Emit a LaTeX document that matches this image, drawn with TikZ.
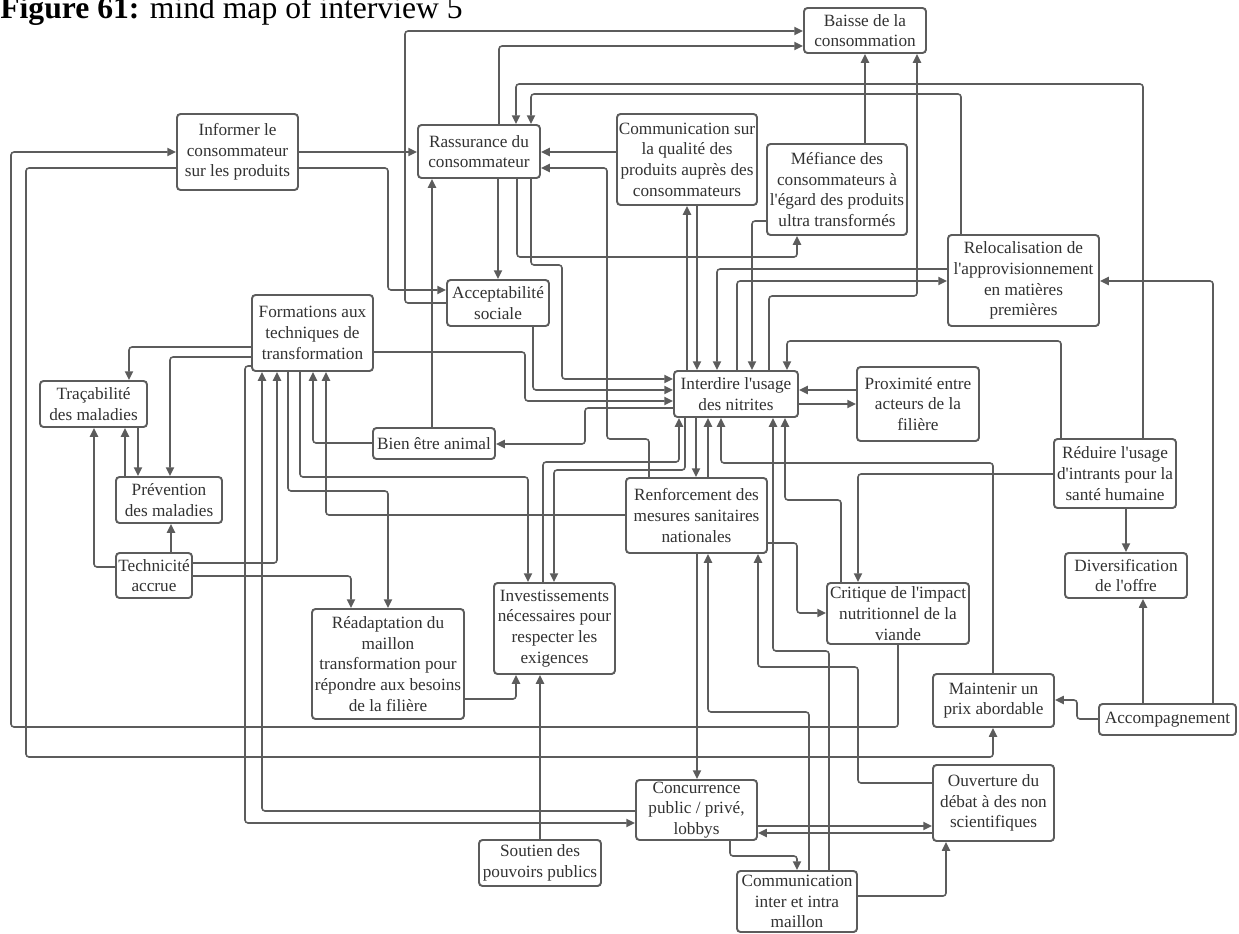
\documentclass[tikz,border=0pt]{standalone}
\usepackage{fontspec}
\setmainfont{Liberation Serif}[Ligatures=TeXOff]
\usetikzlibrary{arrows.meta}
\definecolor{lg}{RGB}{92,92,92}
\definecolor{tg}{RGB}{50,50,50}
\newcommand{\ndbox}[6]{%
 \pgfmathsetmacro{\ndw}{(#4-#2)*0.02}%
 \pgfmathsetmacro{\ndh}{(#5-#3)*0.02}%
 \node[bx, minimum width=\ndw cm, minimum height=\ndh cm] (#1) at ({(#2+#4)/2},{(#3+#5)/2}) {#6};}
\begin{document}
\begin{tikzpicture}[x=0.02cm, y=-0.02cm,
  bx/.style={draw=lg, line width=1.1pt, rounded corners=0.07cm, fill=white, inner sep=0pt, align=center, font=\fontsize{9.8}{11.8}\selectfont, text=tg},
  arr/.style={draw=lg, line width=0.9pt, rounded corners=0.06cm, -{Triangle[length=5pt,width=4.6pt]}}]
\useasboundingbox (0,0) rectangle (1239,933);
\node[anchor=base west, inner sep=0pt, font=\fontsize{18}{20}\selectfont] (title) at (0,18) {\textbf{Figure 61:} mind map of interview 5};
% nodes
\ndbox{Baisse}{804}{8}{926}{53}{Baisse de la\\consommation}
\ndbox{Informer}{177}{114}{298}{190}{Informer le\\consommateur\\sur les produits}
\ndbox{Rassurance}{418}{125}{540}{178}{Rassurance du\\consommateur}
\ndbox{CommQual}{617}{114}{757}{205}{Communication sur\\la qualité des\\produits auprès des\\consommateurs}
\ndbox{Mefiance}{767}{144}{907}{235}{Méfiance des\\consommateurs à\\l'égard des produits\\ultra transformés}
\ndbox{Relocalisation}{948}{235}{1099}{326}{Relocalisation de\\l'approvisionnement\\en matières\\premières}
\ndbox{Acceptabilite}{447}{280}{549}{326}{Acceptabilité\\sociale}
\ndbox{Formations}{252}{295}{373}{371}{Formations aux\\techniques de\\transformation}
\ndbox{Tracabilite}{40}{381}{147}{427}{Traçabilité\\des maladies}
\ndbox{Prevention}{116}{477}{222}{523}{Prévention\\des maladies}
\ndbox{Technicite}{116}{553}{192}{598}{Technicité\\accrue}
\ndbox{BienEtre}{373}{428}{495}{459}{Bien être animal}
\ndbox{Interdire}{674}{371}{798}{417}{Interdire l'usage\\des nitrites}
\ndbox{Proximite}{857}{367}{979}{441}{Proximité entre\\acteurs de la\\filière}
\ndbox{Reduire}{1054}{439}{1176}{508}{Réduire l'usage\\d'intrants pour la\\santé humaine}
\ndbox{Renforcement}{626}{478}{767}{553}{Renforcement des\\mesures sanitaires\\nationales}
\ndbox{Investissements}{494}{583}{615}{674}{Investissements\\nécessaires pour\\respecter les\\exigences}
\ndbox{Readaptation}{312}{609}{464}{719}{Réadaptation du\\maillon\\transformation pour\\répondre aux besoins\\de la filière}
\ndbox{Critique}{827}{583}{969}{644}{Critique de l'impact\\nutritionnel de la\\viande}
\ndbox{Diversification}{1065}{553}{1187}{598}{Diversification\\de l'offre}
\ndbox{Maintenir}{933}{674}{1054}{727}{Maintenir un\\prix abordable}
\ndbox{Accompagnement}{1099}{704}{1236}{735}{Accompagnement}
\ndbox{Concurrence}{636}{780}{757}{840}{Concurrence\\public / privé,\\lobbys}
\ndbox{Soutien}{479}{840}{601}{886}{Soutien des\\pouvoirs publics}
\ndbox{Ouverture}{933}{765}{1054}{841}{Ouverture du\\débat à des non\\scientifiques}
\ndbox{CommInter}{737}{871}{857}{932}{Communication\\inter et intra\\maillon}
% connectors
\draw[arr] (Informer.east |- 0,152) -- (Rassurance.west |- 0,152);
\draw[arr] (Informer.east |- 0,168) -- (388,168) -- (388,290) -- (Acceptabilite.west |- 0,290);
\draw[arr] (Informer.west |- 0,168) -- (26,168) -- (26,757) -- (993,757) -- (Maintenir.south -| 993,0);
\draw[arr] (Critique.south -| 898,0) -- (898,727) -- (11,727) -- (11,152) -- (Informer.west |- 0,152);
\draw[arr] (Acceptabilite.west |- 0,303) -- (405,303) -- (405,31) -- (Baisse.west |- 0,31);
\draw[arr] (Rassurance.north -| 499,0) -- (499,46) -- (Baisse.west |- 0,46);
\draw[arr] (Reduire.north -| 1143,0) -- (1143,84) -- (516,84) -- (Rassurance.north -| 516,0);
\draw[arr] (Relocalisation.north -| 961,0) -- (961,94) -- (531,94) -- (Rassurance.north -| 531,0);
\draw[arr] (CommQual.west |- 0,152) -- (Rassurance.east |- 0,152);
\draw[arr] (Renforcement.north -| 649,0) -- (649,439) -- (607,439) -- (607,168) -- (Rassurance.east |- 0,168);
\draw[arr] (Rassurance.south -| 498,0) -- (Acceptabilite.north -| 498,0);
\draw[arr] (Rassurance.south -| 517,0) -- (517,257) -- (797,257) -- (Mefiance.south -| 797,0);
\draw[arr] (Rassurance.south -| 531,0) -- (531,265) -- (562,265) -- (562,379) -- (Interdire.west |- 0,379);
\draw[arr] (BienEtre.north -| 432,0) -- (Rassurance.south -| 432,0);
\draw[arr] (Acceptabilite.south -| 533,0) -- (533,390) -- (Interdire.west |- 0,390);
\draw[arr] (Formations.east |- 0,352) -- (525,352) -- (525,401) -- (Interdire.west |- 0,401);
\draw[arr] (Interdire.west |- 0,408) -- (585,408) -- (585,444) -- (BienEtre.east |- 0,444);
\draw[arr] (Interdire.north -| 687,0) -- (CommQual.south -| 687,0);
\draw[arr] (CommQual.south -| 697,0) -- (Interdire.north -| 697,0);
\draw[arr] (Mefiance.west |- 0,221) -- (752,221) -- (Interdire.north -| 752,0);
\draw[arr] (Relocalisation.west |- 0,269) -- (717,269) -- (Interdire.north -| 717,0);
\draw[arr] (Interdire.north -| 737,0) -- (737,281) -- (Relocalisation.west |- 0,281);
\draw[arr] (Interdire.north -| 769,0) -- (769,296) -- (917,296) -- (Baisse.south -| 917,0);
\draw[arr] (Mefiance.north -| 865,0) -- (Baisse.south -| 865,0);
\draw[arr] (Reduire.north -| 1061,0) -- (1061,341) -- (787,341) -- (Interdire.north -| 787,0);
\draw[arr] (Proximite.west |- 0,390) -- (Interdire.east |- 0,390);
\draw[arr] (Interdire.east |- 0,404) -- (Proximite.west |- 0,404);
\draw[arr] (Investissements.north -| 543,0) -- (543,462) -- (679,462) -- (Interdire.south -| 679,0);
\draw[arr] (Interdire.south -| 685,0) -- (685,470) -- (554,470) -- (Investissements.north -| 554,0);
\draw[arr] (Interdire.south -| 696,0) -- (Renforcement.north -| 696,0);
\draw[arr] (Renforcement.north -| 708,0) -- (Interdire.south -| 708,0);
\draw[arr] (Maintenir.north -| 993,0) -- (993,463) -- (721,463) -- (Interdire.south -| 721,0);
\draw[arr] (CommInter.north -| 829,0) -- (829,651) -- (773,651) -- (Interdire.south -| 773,0);
\draw[arr] (Critique.north -| 841,0) -- (841,500) -- (785,500) -- (Interdire.south -| 785,0);
\draw[arr] (Renforcement.east |- 0,543) -- (797,543) -- (797,613) -- (Critique.west |- 0,613);
\draw[arr] (Renforcement.south -| 697,0) -- (Concurrence.north -| 697,0);
\draw[arr] (CommInter.north -| 809,0) -- (809,712) -- (708,712) -- (Renforcement.south -| 708,0);
\draw[arr] (Ouverture.west |- 0,783) -- (858,783) -- (858,667) -- (758,667) -- (Renforcement.south -| 758,0);
\draw[arr] (Reduire.west |- 0,474) -- (858,474) -- (Critique.north -| 858,0);
\draw[arr] (Renforcement.west |- 0,515) -- (326,515) -- (Formations.south -| 326,0);
\draw[arr] (BienEtre.west |- 0,443) -- (313,443) -- (Formations.south -| 313,0);
\draw[arr] (Formations.south -| 300,0) -- (300,477) -- (528,477) -- (Investissements.north -| 528,0);
\draw[arr] (Formations.south -| 288,0) -- (288,491) -- (388,491) -- (Readaptation.north -| 388,0);
\draw[arr] (Technicite.east |- 0,563) -- (277,563) -- (Formations.south -| 277,0);
\draw[arr] (Technicite.east |- 0,576) -- (351,576) -- (Readaptation.north -| 351,0);
\draw[arr] (Concurrence.west |- 0,811) -- (262,811) -- (Formations.south -| 262,0);
\draw[arr] (Formations.west |- 0,366) -- (245,366) -- (245,823) -- (Concurrence.west |- 0,823);
\draw[arr] (Formations.west |- 0,347) -- (129,347) -- (Tracabilite.north -| 129,0);
\draw[arr] (Formations.west |- 0,357) -- (170,357) -- (Prevention.north -| 170,0);
\draw[arr] (Technicite.west |- 0,567) -- (94,567) -- (Tracabilite.south -| 94,0);
\draw[arr] (Prevention.north -| 125,0) -- (Tracabilite.south -| 125,0);
\draw[arr] (Tracabilite.south -| 138,0) -- (Prevention.north -| 138,0);
\draw[arr] (Technicite.north -| 171,0) -- (Prevention.south -| 171,0);
\draw[arr] (Readaptation.east |- 0,699) -- (516,699) -- (Investissements.south -| 516,0);
\draw[arr] (Soutien.north -| 540,0) -- (Investissements.south -| 540,0);
\draw[arr] (Concurrence.east |- 0,826) -- (Ouverture.west |- 0,826);
\draw[arr] (Ouverture.west |- 0,833) -- (Concurrence.east |- 0,833);
\draw[arr] (Concurrence.south -| 730,0) -- (730,856) -- (797,856) -- (CommInter.north -| 797,0);
\draw[arr] (CommInter.east |- 0,896) -- (946,896) -- (Ouverture.south -| 946,0);
\draw[arr] (Accompagnement.west |- 0,719) -- (1077,719) -- (1077,700) -- (Maintenir.east |- 0,700);
\draw[arr] (Accompagnement.north -| 1143,0) -- (Diversification.south -| 1143,0);
\draw[arr] (Accompagnement.north -| 1213,0) -- (1213,281) -- (Relocalisation.east |- 0,281);
\draw[arr] (Reduire.south -| 1126,0) -- (Diversification.north -| 1126,0);
\end{tikzpicture}
\end{document}
